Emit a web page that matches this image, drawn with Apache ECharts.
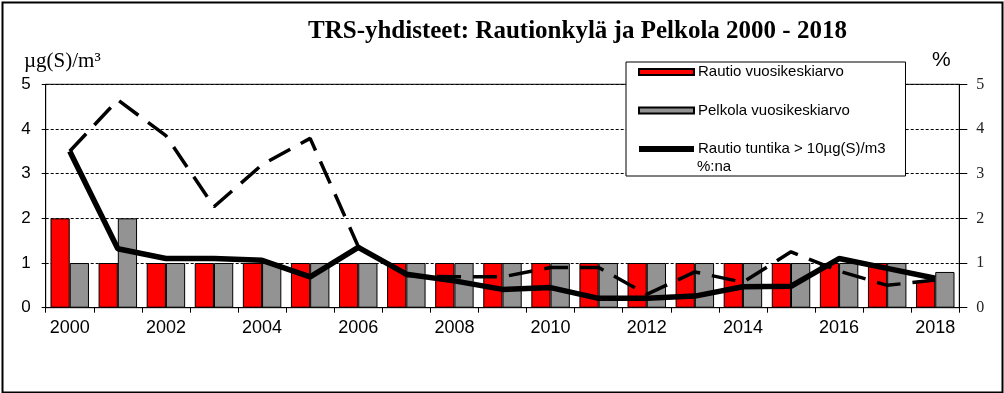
<!DOCTYPE html>
<html><head><meta charset="utf-8">
<script src="https://cdn.jsdelivr.net/npm/echarts@6/dist/echarts.min.js"></script>
<style>html,body{margin:0;padding:0;background:#fff}#c{width:1004px;height:393px}</style>
</head><body><div id="c"></div>
<script>
const years = ['2000','2001','2002','2003','2004','2005','2006','2007','2008','2009','2010','2011','2012','2013','2014','2015','2016','2017','2018'];
const rautioMean = [2,1,1,1,1,1,1,1,1,1,1,1,1,1,1,1,1,1,0.6];
const pelkolaMean = [1,2,1,1,1,1,1,1,1,1,1,1,1,1,1,1,1,1,0.8];
const rautioPct = [3.5,1.32,1.1,1.1,1.06,0.69,1.35,0.75,0.6,0.41,0.45,0.21,0.21,0.26,0.47,0.48,1.1,0.88,0.66];
const pelkolaPct = [3.5,4.65,3.85,2.26,3.2,3.79,1.37,0.72,0.69,0.69,0.9,0.9,0.3,0.8,0.57,1.25,0.82,0.5,0.62];
const leftTicks = [0,1,2,3,4,5];

const chart = echarts.init(document.getElementById('c'), null, {renderer:'canvas'});
const sans = 'Arial, "Liberation Sans", sans-serif';
const serif = '"Times New Roman", "Liberation Serif", serif';
chart.setOption({
  animation:false,
  backgroundColor:'#fff',
  title:{text:'TRS-yhdisteet: Rautionkylä ja Pelkola 2000 - 2018', left:308, top:19, padding:0,
    textStyle:{fontFamily:serif, fontWeight:'bold', fontSize:25, color:'#000'}},
  grid:{left:45.7, right:44.7, top:84.3, bottom:85.3, show:true, borderColor:'#000', borderWidth:1, backgroundColor:'transparent'},
  legend:{
    orient:'vertical', left:626, top:62,
    data:[{name:'Rautio vuosikeskiarvo'},{name:'Pelkola vuosikeskiarvo'},{name:'Rautio tuntika > 10µg(S)/m3'}],
    icon:'rect', itemWidth:55, itemHeight:6, itemGap:20.5,
    padding:[1,20,18,12],
    backgroundColor:'#fff', borderColor:'#000', borderWidth:1,
    textStyle:{fontFamily:sans, fontSize:15, color:'#000', lineHeight:18, padding:[0,0,0,-1]}
  },
  xAxis:{type:'category', data:years, boundaryGap:true,
    axisLine:{lineStyle:{color:'#000', width:1}},
    axisTick:{show:true, interval:0, length:5, lineStyle:{color:'#000'}},
    axisLabel:{interval:1, fontFamily:sans, fontSize:18, color:'#000', margin:11}
  },
  yAxis:[
    {type:'value', min:0, max:5, interval:1, position:'left',
      axisLine:{show:true, lineStyle:{color:'#000'}},
      axisTick:{show:true, length:4, lineStyle:{color:'#000'}},
      axisLabel:{fontFamily:sans, fontSize:17, color:'#000', margin:15},
      splitLine:{show:true, lineStyle:{color:'#000', type:[3,2], width:1}}
    },
    {type:'value', min:0, max:5, interval:1, position:'right',
      axisLine:{show:true, lineStyle:{color:'#000'}},
      axisTick:{show:true, length:8, lineStyle:{color:'#000'}},
      axisLabel:{fontFamily:serif, fontSize:16, color:'#222', margin:17},
      splitLine:{show:false}
    }
  ],
  series:[
    {name:'Rautio vuosikeskiarvo', type:'bar', data:rautioMean, barGap:'0%', barCategoryGap:'20%',
      itemStyle:{color:'#ff0000', borderColor:'#000', borderWidth:1}},
    {name:'Pelkola vuosikeskiarvo', type:'bar', data:pelkolaMean, barGap:'0%', barCategoryGap:'20%',
      itemStyle:{color:'#939393', borderColor:'#000', borderWidth:1}},
    {name:'Pelkola tuntika > 10µg(S)/m3', type:'line', yAxisIndex:1, data:pelkolaPct, showSymbol:false, symbol:'none',
      lineStyle:{color:'#000', width:3.5, type:[24,12]}, itemStyle:{color:'#000'}, z:3},
    {name:'Rautio tuntika > 10µg(S)/m3', type:'line', yAxisIndex:1, data:rautioPct, showSymbol:false, symbol:'none',
      lineStyle:{color:'#000', width:5.5}, itemStyle:{color:'#000'}, z:4}
  ],
  graphic:[
    {type:'text', left:24, top:51, z:10, style:{text:'µg(S)/m³', font:'21px '+serif, fill:'#000'}},
    {type:'text', left:932, top:50, z:10, style:{text:'%', font:'21px '+sans, fill:'#000'}},
    {type:'text', left:697, top:159, z:20, style:{text:'%:na', font:'15px '+sans, fill:'#000'}},
    {type:'rect', left:0, top:0, z:30, shape:{x:1, y:1, width:1000, height:390}, style:{fill:'none', stroke:'#000', lineWidth:2}}
  ]
});
</script></body></html>
